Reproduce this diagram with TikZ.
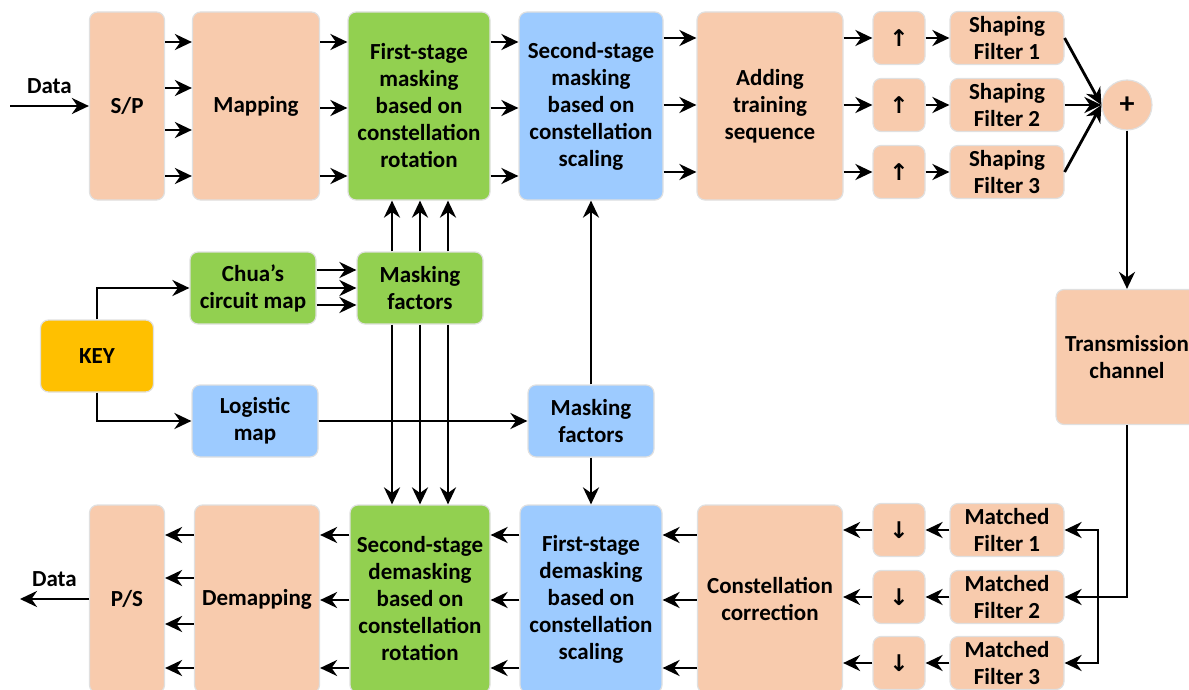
\documentclass[tikz,border=0pt]{standalone}
\usepackage{fontspec}
\setmainfont{Carlito}
\newfontfamily\arrowfont{DejaVu Sans}
\usetikzlibrary{positioning, arrows.meta, calc}
\usepackage{xcolor}
\definecolor{peach}{HTML}{F8CBAD}
\definecolor{leaf}{HTML}{92D050}
\definecolor{sky}{HTML}{9DCBFF}
\definecolor{amber}{HTML}{FFC000}
\tikzset{
    block/.style={
        rectangle,
        rounded corners=4pt,
        draw=black!12,
        line width=0.6pt,
        align=center,
        inner sep=1pt
    },
    tall/.style={
        block,
        minimum height=94pt
    },
    ratebox/.style={
        block,
        fill=peach,
        minimum width=26pt,
        minimum height=26.5pt
    },
    filterbox/.style={
        block,
        fill=peach,
        minimum width=57pt,
        minimum height=26.5pt
    },
    keybox/.style={
        block,
        minimum width=63pt,
        minimum height=36pt
    }
}

\begin{document}
\begin{tikzpicture}[
        x=0.5pt, y=-0.5pt,
        every node/.style={font=\bfseries\fontsize{11.5}{13.5}\selectfont},
        ->,>={Stealth[length=8.5pt,width=8pt]},line width=1.4pt
      ]
      \useasboundingbox (0,0) rectangle (1189,690);
      \clip (0,0) rectangle (1189,690);

      % transmitter
      \node[tall, fill=peach, minimum width=37.5pt] (sp)    at (127,106) {S/P};
      \node[tall, fill=peach, minimum width=63.5pt] (mapg)  at (256,106) {Mapping};
      \node[tall, fill=leaf,  minimum width=71pt]   (mask1) at (419,106) {First-stage\\masking\\based on\\constellation\\rotation};
      \node[tall, fill=sky,   minimum width=72pt]   (mask2) at (591,106) {Second-stage\\masking\\based on\\constellation\\scaling};
      \node[tall, fill=peach, minimum width=73pt]   (train) at (770,106) {Adding\\training\\sequence};
      \foreach \i/\y in {1/38,2/105,3/172} {
        \node[ratebox]   (up\i) at (899,\y)  {\arrowfont ↑};
        \node[filterbox] (sf\i) at (1007,\y) {Shaping\\Filter \i};
      }
      \node[block, circle, fill=peach, minimum size=25pt, font=\bfseries\fontsize{15}{15}\selectfont] (sum) at (1127,105) {+};
      \node[block, fill=peach, minimum width=71pt, minimum height=67.5pt] (chan) at (1127,357) {Transmission\\channel};

      % keys
      \node[keybox, fill=amber, minimum width=56.5pt] (key) at (97,356) {KEY};
      \node[keybox, fill=leaf] (chua) at (253,288) {Chua’s\\circuit map};
      \node[keybox, fill=leaf] (mfg)  at (420,288) {Masking\\factors};
      \node[keybox, fill=sky]  (logi) at (255,421) {Logistic\\map};
      \node[keybox, fill=sky]  (mfb)  at (591,421) {Masking\\factors};

      % receiver
      \node[tall, fill=peach, minimum width=37.5pt] (ps)     at (127,599) {P/S};
      \node[tall, fill=peach, minimum width=62.5pt] (demap)  at (257,599) {Demapping};
      \node[tall, fill=leaf,  minimum width=70pt]   (dmask2) at (420,599) {Second-stage\\demasking\\based on\\constellation\\rotation};
      \node[tall, fill=sky,   minimum width=71pt]   (dmask1) at (591,599) {First-stage\\demasking\\based on\\constellation\\scaling};
      \node[tall, fill=peach, minimum width=72.5pt] (corr)   at (770,599) {Constellation\\correction};
      \foreach \i/\y in {1/530,2/597,3/663} {
        \node[ratebox]   (dn\i) at (899,\y)  {\arrowfont ↓};
        \node[filterbox] (mf\i) at (1007,\y) {Matched\\Filter \i};
      }

      \coordinate (din)  at (10,106);
      \coordinate (dout) at (20,599);
      \coordinate (bus)  at (1098,597);

      % top row
      \draw (din) -- (sp.west) node[midway, above, yshift=2pt] {Data};
      \foreach \y in {42,88,130,176} \draw (sp.east |- 0,\y) -- (mapg.west |- 0,\y);
      \foreach \y in {42,108,176} {
        \draw (mapg.east |- 0,\y) -- (mask1.west |- 0,\y);
        \draw (mask1.east |- 0,\y) -- (mask2.west |- 0,\y);
      }
      \foreach \i/\y in {1/38,2/105,3/172} {
        \draw (mask2.east |- 0,\y) -- (train.west |- 0,\y);
        \draw (train.east |- 0,\y) -- (up\i.west);
        \draw (up\i.east) -- (sf\i.west);
        \draw (sf\i.east) -- (sum.west);
      }
      \draw (sum.south) -- (chan.north);

      % key streams
      \draw (key.north) |- (chua.west);
      \draw (key.south) |- (logi.west);
      \foreach \y in {270,288,305} \draw (chua.east |- 0,\y) -- (mfg.west |- 0,\y);
      \foreach \x in {392,420,448} {
        \draw (mfg.north -| \x,0) -- (mask1.south -| \x,0);
        \draw (mfg.south -| \x,0) -- (dmask2.north -| \x,0);
      }
      \draw (logi.east) -- (mfb.west);
      \draw (mfb.north) -- (mask2.south);
      \draw (mfb.south) -- (dmask1.north);

      % bottom row
      \draw (chan.south) |- (mf2.east);
      \draw[<->] (mf1.east) -| (bus) |- (mf3.east);
      \foreach \i/\y in {1/530,2/597,3/663} {
        \draw (mf\i.west) -- (dn\i.east);
        \draw (dn\i.west) -- (corr.east |- 0,\y);
      }
      \foreach \y in {535,600,668} {
        \draw (corr.west |- 0,\y) -- (dmask1.east |- 0,\y);
        \draw (dmask1.west |- 0,\y) -- (dmask2.east |- 0,\y);
        \draw (dmask2.west |- 0,\y) -- (demap.east |- 0,\y);
      }
      \foreach \y in {535,578,624,668} \draw (demap.west |- 0,\y) -- (ps.east |- 0,\y);
      \draw (ps.west) -- (dout) node[midway, above, yshift=2pt] {Data};
    \end{tikzpicture}
\end{document}
